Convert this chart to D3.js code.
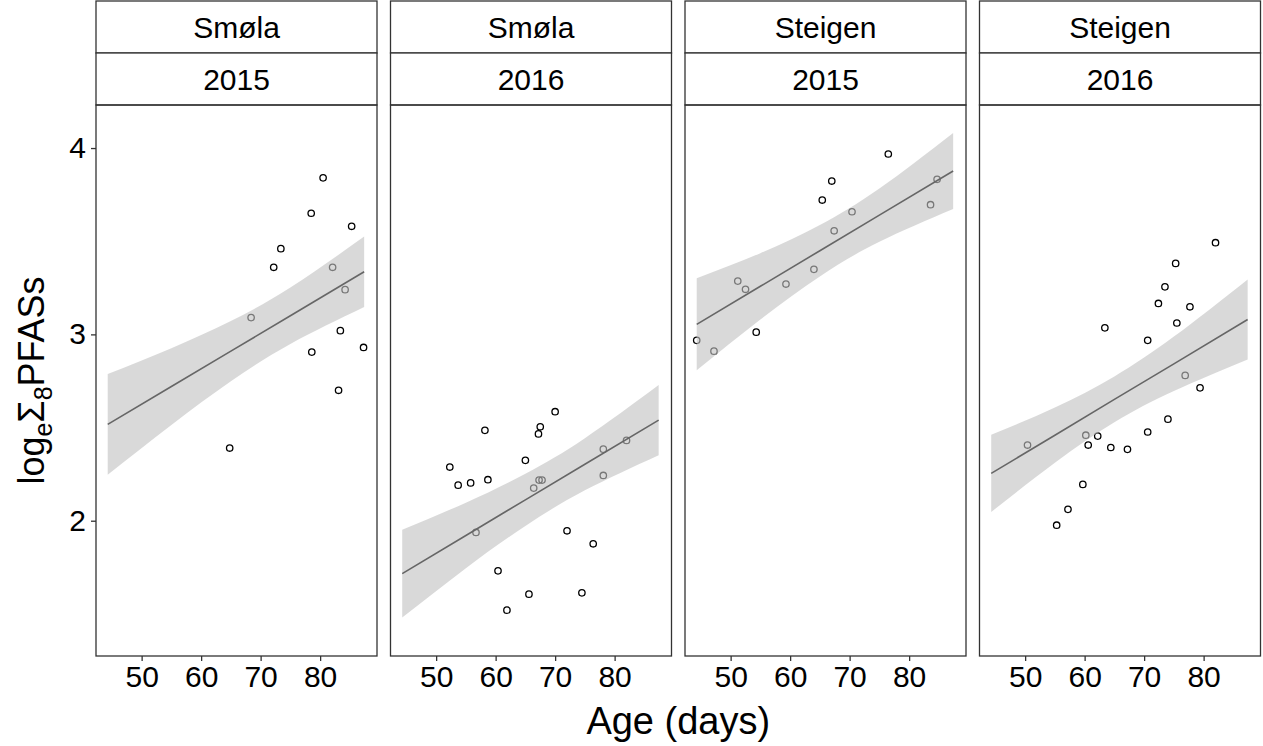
<!DOCTYPE html>
<html>
<head>
<meta charset="utf-8">
<script src="https://cdn.jsdelivr.net/npm/d3@7"></script>
<style>
  body { margin: 0; background: #fff; }
  svg { display: block; font-family: "Liberation Sans", Arial, sans-serif; }
</style>
</head>
<body>
<svg id="chart" width="1263" height="746"></svg>
<script>
// facet labels
const sites = ["Smøla", "Smøla", "Steigen", "Steigen"];
const years = ["2015", "2016", "2015", "2016"];

// observed points, one pair of arrays per facet
const smola2015Age  = [80.5, 78.5, 85.3, 73.4, 72.2, 82.1, 84.2, 68.4, 83.4, 78.6, 87.3, 83.1, 64.8];
const smola2015Pfas = [3.84, 3.65, 3.58, 3.46, 3.36, 3.36, 3.24, 3.09, 3.02, 2.905, 2.93, 2.70, 2.39];

const smola2016Age  = [70.0, 58.2, 67.5, 67.2, 65.0, 52.3, 53.7, 55.8, 58.7, 78.1, 82.0, 78.1, 67.3, 67.8, 66.4, 56.7, 72.0, 76.4, 60.4, 65.6, 74.5, 61.9];
const smola2016Pfas = [2.585, 2.485, 2.504, 2.466, 2.324, 2.288, 2.191, 2.203, 2.220, 2.384, 2.431, 2.243, 2.218, 2.218, 2.175, 1.937, 1.946, 1.876, 1.731, 1.606, 1.613, 1.520];

const steigen2015Age  = [76.5, 67.0, 65.4, 84.7, 83.6, 70.4, 67.4, 64.0, 59.3, 51.2, 52.5, 54.3, 44.3, 47.2];
const steigen2015Pfas = [3.968, 3.823, 3.721, 3.832, 3.696, 3.658, 3.556, 3.349, 3.270, 3.286, 3.242, 3.012, 2.968, 2.910];

const steigen2016Age  = [82.0, 75.3, 73.5, 72.4, 77.7, 75.5, 63.4, 70.6, 76.9, 79.4, 74.0, 70.6, 67.2, 64.4, 62.2, 60.2, 60.6, 50.4, 59.7, 57.2, 55.3];
const steigen2016Pfas = [3.492, 3.381, 3.255, 3.166, 3.148, 3.061, 3.035, 2.968, 2.780, 2.713, 2.545, 2.476, 2.383, 2.393, 2.454, 2.459, 2.406, 2.406, 2.195, 2.061, 1.976];

// fitted model (common slope) and its confidence band, read at these ages
const fitAge = [44.3, 55, 65, 75, 87.4];
const smola2015Fit   = [2.517, 2.720, 2.910, 3.100, 3.336];
const smola2015Low   = [2.247, 2.514, 2.748, 2.949, 3.147];
const smola2015High  = [2.787, 2.926, 3.072, 3.251, 3.525];
const smola2016Fit   = [1.716, 1.921, 2.112, 2.303, 2.540];
const smola2016Low   = [1.480, 1.745, 1.972, 2.163, 2.352];
const smola2016High  = [1.952, 2.097, 2.252, 2.443, 2.728];
const steigen2015Fit  = [3.054, 3.258, 3.449, 3.640, 3.877];
const steigen2015Low  = [2.807, 3.080, 3.311, 3.497, 3.673];
const steigen2015High = [3.301, 3.436, 3.587, 3.783, 4.081];
const steigen2016Fit  = [2.254, 2.459, 2.651, 2.842, 3.080];
const steigen2016Low  = [2.047, 2.311, 2.528, 2.696, 2.865];
const steigen2016High = [2.461, 2.607, 2.774, 2.988, 3.295];

const xTicks = [50, 60, 70, 80];
const yTicks = [2, 3, 4];

const facets = [
    { age: smola2015Age, pfas: smola2015Pfas, fit: smola2015Fit, low: smola2015Low, high: smola2015High },
    { age: smola2016Age, pfas: smola2016Pfas, fit: smola2016Fit, low: smola2016Low, high: smola2016High },
    { age: steigen2015Age, pfas: steigen2015Pfas, fit: steigen2015Fit, low: steigen2015Low, high: steigen2015High },
    { age: steigen2016Age, pfas: steigen2016Pfas, fit: steigen2016Fit, low: steigen2016Low, high: steigen2016High }
];

const LAYOUT = {
    left: 96,
    panelW: 281,
    gap: 13.5,
    stripTop: 1,
    stripH: 52,
    plotTop: 105,
    plotBottom: 656
};

const COLORS = {
    border: '#333333',
    ribbon: '#c2c2c2',
    line: '#666666',
    point: '#000000',
    text: '#000000'
};

const svg = d3.select('#chart');

const x = d3.scaleLinear().domain([42.33, 89.56]).range([0, LAYOUT.panelW]);
const y = d3.scaleLinear().domain([1.274, 4.231]).range([LAYOUT.plotBottom, LAYOUT.plotTop]);

facets.forEach((f, i) => {
    const px = LAYOUT.left + i * (LAYOUT.panelW + LAYOUT.gap);
    const g = svg.append('g').attr('transform', 'translate(' + px + ',0)');

    // strips
    [sites[i], years[i]].forEach((label, k) => {
        const top = LAYOUT.stripTop + k * LAYOUT.stripH;
        g.append('rect')
            .attr('x', 0).attr('y', top)
            .attr('width', LAYOUT.panelW).attr('height', LAYOUT.stripH)
            .style('fill', 'white')
            .style('stroke', COLORS.border)
            .style('stroke-width', 1.3);
        g.append('text')
            .attr('x', LAYOUT.panelW / 2)
            .attr('y', top + LAYOUT.stripH / 2 + 10.5)
            .attr('text-anchor', 'middle')
            .attr('font-size', 30)
            .style('fill', COLORS.text)
            .text(label);
    });

    const clipId = 'clip' + i;
    g.append('clipPath').attr('id', clipId)
        .append('rect')
        .attr('x', 0).attr('y', LAYOUT.plotTop)
        .attr('width', LAYOUT.panelW).attr('height', LAYOUT.plotBottom - LAYOUT.plotTop);

    const body = g.append('g').attr('clip-path', 'url(#' + clipId + ')');

    // points
    body.selectAll('circle')
        .data(f.age.map((a, j) => ({ age: a, pfas: f.pfas[j] })))
        .enter()
        .append('circle')
        .attr('cx', d => x(d.age))
        .attr('cy', d => y(d.pfas))
        .attr('r', 3.2)
        .style('fill', 'none')
        .style('stroke', COLORS.point)
        .style('stroke-width', 1.3);

    const band = fitAge.map((a, j) => ({ age: a, fit: f.fit[j], low: f.low[j], high: f.high[j] }));

    // confidence band drawn over the points
    body.append('path')
        .datum(band)
        .attr('d', d3.area()
            .curve(d3.curveNatural)
            .x(d => x(d.age))
            .y0(d => y(d.low))
            .y1(d => y(d.high)))
        .style('fill', COLORS.ribbon)
        .style('fill-opacity', 0.62)
        .style('stroke', 'none');

    body.append('path')
        .datum(band)
        .attr('d', d3.line()
            .x(d => x(d.age))
            .y(d => y(d.fit)))
        .style('fill', 'none')
        .style('stroke', COLORS.line)
        .style('stroke-width', 1.6);

    // panel border
    g.append('rect')
        .attr('x', 0).attr('y', LAYOUT.plotTop)
        .attr('width', LAYOUT.panelW).attr('height', LAYOUT.plotBottom - LAYOUT.plotTop)
        .style('fill', 'none')
        .style('stroke', COLORS.border)
        .style('stroke-width', 1.3);

    // x axis
    const xAxis = g.append('g')
        .attr('transform', 'translate(0,' + LAYOUT.plotBottom + ')')
        .call(d3.axisBottom(x).tickValues(xTicks).tickSize(5).tickPadding(5));
    xAxis.select('.domain').remove();
    xAxis.selectAll('line').style('stroke', COLORS.border).style('stroke-width', 1.3);
    xAxis.selectAll('text')
        .attr('font-size', 30)
        .attr('font-family', '"Liberation Sans", Arial, sans-serif')
        .style('fill', COLORS.text);

    if (i === 0) {
        const yAxis = g.append('g')
            .call(d3.axisLeft(y).tickValues(yTicks).tickFormat(d3.format('d')).tickSize(5).tickPadding(5));
        yAxis.select('.domain').remove();
        yAxis.selectAll('line').style('stroke', COLORS.border).style('stroke-width', 1.3);
        yAxis.selectAll('text')
            .attr('font-size', 30)
            .attr('font-family', '"Liberation Sans", Arial, sans-serif')
            .style('fill', COLORS.text);
    }
});

// axis titles
const fullW = 4 * LAYOUT.panelW + 3 * LAYOUT.gap;
svg.append('text')
    .attr('x', LAYOUT.left + fullW / 2)
    .attr('y', 734)
    .attr('text-anchor', 'middle')
    .attr('font-size', 38)
    .style('fill', COLORS.text)
    .text('Age (days)');

const yTitle = svg.append('text')
    .attr('transform', 'translate(44,' + ((LAYOUT.plotTop + LAYOUT.plotBottom) / 2) + ') rotate(-90)')
    .attr('text-anchor', 'middle')
    .attr('font-size', 36)
    .style('fill', COLORS.text);
yTitle.append('tspan').text('log');
yTitle.append('tspan').attr('font-size', 25).attr('dy', 8).text('e');
yTitle.append('tspan').attr('dy', -8).text('Σ');
yTitle.append('tspan').attr('font-size', 25).attr('dy', 8).text('8');
yTitle.append('tspan').attr('dy', -8).text('PFASs');
</script>
</body>
</html>
